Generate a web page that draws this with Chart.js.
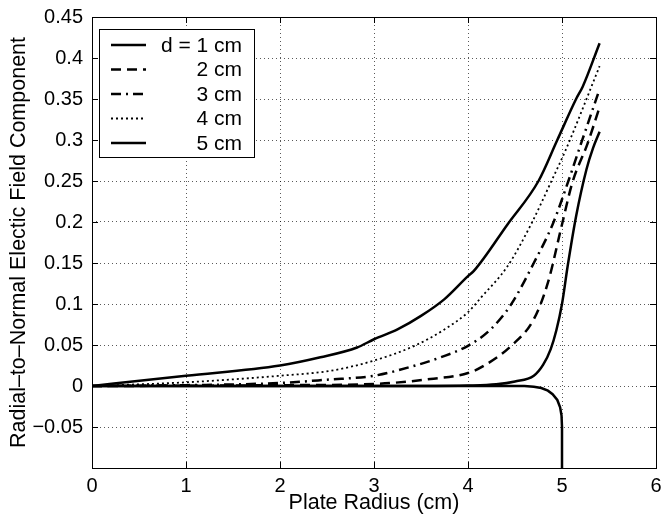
<!DOCTYPE html>
<html>
<head>
<meta charset="utf-8">
<script src="https://cdn.jsdelivr.net/npm/chart.js@4/dist/chart.umd.min.js"></script>
<style>
	html, body { margin: 0; padding: 0; background: #fff; }
	#wrap { width: 662px; height: 516px; }
</style>
</head>
<body>
<div id="wrap"><canvas id="fieldChart" width="662" height="516"></canvas></div>
<script>
// plate radius (cm) and radial-to-normal ratio, one pair of arrays per spacing
var r1 = [0, 1, 2, 3, 3.5, 4, 4.3, 4.5, 4.7, 4.8, 4.88, 4.94, 5.0, 5.06, 5.15, 5.26, 5.33, 5.4];
var e1 = [0, 0, 0, 0, 0, 0.0005, 0.002, 0.0055, 0.0125, 0.026, 0.045, 0.068, 0.1, 0.146, 0.207, 0.264, 0.29, 0.31];

var r2 = [0, 1, 2, 3, 3.6, 4, 4.17, 4.46, 4.7, 4.85, 5.0, 5.11, 5.27, 5.4];
var e2 = [0, 0.0003, 0.001, 0.0025, 0.0085, 0.0158, 0.0247, 0.049, 0.0815, 0.126, 0.197, 0.248, 0.295, 0.34];

var r3 = [0, 1, 2, 2.5, 3, 3.43, 3.71, 4, 4.24, 4.46, 4.7, 4.9, 5.08, 5.18, 5.4];
var e3 = [0, 0.001, 0.0037, 0.0077, 0.0125, 0.0247, 0.035, 0.049, 0.069, 0.0998, 0.15, 0.197, 0.254, 0.288, 0.362];

var r4 = [0, 1, 2, 2.54, 3, 3.43, 3.75, 4, 4.14, 4.42, 4.67, 4.88, 5.04, 5.4];
var e4 = [0, 0.0045, 0.0125, 0.0186, 0.031, 0.049, 0.069, 0.09, 0.108, 0.146, 0.197, 0.248, 0.288, 0.39];

var r5 = [0, 1, 2, 2.43, 2.82, 3, 3.25, 3.5, 3.75, 4, 4.06, 4.42, 4.75, 4.95, 5.15, 5.22, 5.4];
var e5 = [0, 0.0125, 0.025, 0.035, 0.047, 0.057, 0.069, 0.0855, 0.106, 0.134, 0.14, 0.197, 0.25, 0.3, 0.35, 0.365, 0.418];

// unlabelled solid curve that drops at the plate edge
var r0 = [0, 4.6, 4.7, 4.78, 4.85, 4.9, 4.95, 4.98, 4.995, 5.0, 5.0];
var e0 = [0, 0, -0.0008, -0.0025, -0.0057, -0.01, -0.017, -0.026, -0.036, -0.05, -0.1];

var seriesLabels = ['d = 1 cm', '2 cm', '3 cm', '4 cm', '5 cm'];
var xTicks = [0, 1, 2, 3, 4, 5, 6];
var yMin = -0.1, yMax = 0.45, yStep = 0.05;

(function(window, document, undefined) {
	document.addEventListener('DOMContentLoaded', function() {
		var fontFamily = '"Liberation Sans", Arial, Helvetica, sans-serif';

		function toPoints(xs, ys) {
			var pts = [];
			xs.forEach(function(x, i) {
				pts.push({x: x, y: ys[i]});
			});
			return pts;
		}

		function curve(label, xs, ys, dash, width) {
			return {
				label: label,
				data: toPoints(xs, ys),
				borderColor: '#000',
				borderWidth: width,
				borderDash: dash,
				pointRadius: 0,
				fill: false,
				showLine: true,
				cubicInterpolationMode: 'monotone'
			};
		}

		var datasets = [
			curve(seriesLabels[0], r1, e1, [], 2.5),
			curve(seriesLabels[1], r2, e2, [10, 6], 2.5),
			curve(seriesLabels[2], r3, e3, [10, 5, 2, 5], 2.5),
			curve(seriesLabels[3], r4, e4, [2, 3], 1.8),
			curve(seriesLabels[4], r5, e5, [], 2.5)
		];
		var edge = curve('', r0, e0, [], 2.5);
		edge.cubicInterpolationMode = 'default';
		edge.tension = 0;
		datasets.push(edge);

		function fmtY(v) {
			var r = Math.round(v * 100) / 100;
			if (Math.abs(r - yMin) < 1e-9) {
				return '';
			}
			var s = String(r);
			return s.replace('-', '\u2212');
		}

		// box, inward tick marks and the legend, drawn over the curves
		var frame = {
			id: 'frame',
			afterDraw: function(chart) {
				var ctx = chart.ctx;
				var a = chart.chartArea;
				var xs = chart.scales.x;
				var ys = chart.scales.y;
				var tl = 6;

				ctx.save();
				ctx.strokeStyle = '#000';
				ctx.lineWidth = 1;
				ctx.setLineDash([]);
				ctx.beginPath();
				xs.ticks.forEach(function(t) {
					var px = Math.round(xs.getPixelForValue(t.value)) + 0.5;
					ctx.moveTo(px, a.bottom);
					ctx.lineTo(px, a.bottom - tl);
					ctx.moveTo(px, a.top);
					ctx.lineTo(px, a.top + tl);
				});
				ys.ticks.forEach(function(t) {
					var py = Math.round(ys.getPixelForValue(t.value)) + 0.5;
					ctx.moveTo(a.left, py);
					ctx.lineTo(a.left + tl, py);
					ctx.moveTo(a.right, py);
					ctx.lineTo(a.right - tl, py);
				});
				ctx.stroke();
				ctx.strokeRect(Math.round(a.left) + 0.5, Math.round(a.top) + 0.5,
					Math.round(a.right - a.left), Math.round(a.bottom - a.top));

				// legend
				var lx = a.left + 7, ly = a.top + 12;
				var lw = 155, rowH = 24.5, lh = 128;
				ctx.fillStyle = '#fff';
				ctx.fillRect(lx, ly, lw, lh);
				ctx.strokeRect(Math.round(lx) + 0.5, Math.round(ly) + 0.5, lw, lh);
				ctx.font = '21px ' + fontFamily;
				ctx.textAlign = 'right';
				ctx.textBaseline = 'middle';
				chart.data.datasets.forEach(function(ds, i) {
					if (!ds.label) {
						return;
					}
					var cy = ly + 16 + i * rowH;
					ctx.beginPath();
					ctx.lineWidth = ds.borderWidth;
					ctx.setLineDash(ds.borderDash);
					ctx.moveTo(lx + 12, cy);
					ctx.lineTo(lx + 47, cy);
					ctx.stroke();
					ctx.setLineDash([]);
					ctx.fillStyle = '#000';
					ctx.fillText(ds.label, lx + 143, cy + 1);
				});
				ctx.restore();
			}
		};

		var ctx = document.querySelector('#fieldChart');
		var chart = new Chart(ctx, {
			type: 'scatter',
			data: { datasets: datasets },
			plugins: [frame],
			options: {
				responsive: false,
				animation: false,
				layout: { padding: { left: 0, right: 6, top: 17, bottom: 0 } },
				plugins: {
					legend: { display: false },
					tooltip: { enabled: false }
				},
				scales: {
					x: {
						type: 'linear',
						min: 0,
						max: 6,
						afterBuildTicks: function(scale) {
							scale.ticks = xTicks.map(function(v) { return {value: v}; });
						},
						afterFit: function(scale) {
							scale.height = 48;
							scale.paddingLeft = 0;
							scale.paddingRight = 0;
						},
						grid: { color: 'rgba(0,0,0,0.65)', lineWidth: 1, drawTicks: false },
						border: { display: false, dash: [1, 3] },
						ticks: {
							color: '#000',
							padding: 6,
							font: { family: fontFamily, size: 20 },
							maxRotation: 0
						},
						title: {
							display: true,
							text: 'Plate Radius (cm)',
							color: '#000',
							font: { family: fontFamily, size: 21.5 },
							padding: { top: 0, bottom: 0 }
						}
					},
					y: {
						type: 'linear',
						min: yMin,
						max: yMax,
						afterFit: function(scale) {
							scale.width = 92;
							scale.paddingTop = 0;
							scale.paddingBottom = 0;
						},
						grid: { color: 'rgba(0,0,0,0.65)', lineWidth: 1, drawTicks: false },
						border: { display: false, dash: [1, 3] },
						ticks: {
							stepSize: yStep,
							color: '#000',
							padding: 9,
							font: { family: fontFamily, size: 20 },
							callback: fmtY
						},
						title: {
							display: true,
							text: 'Radial\u2013to\u2013Normal Electic Field Component',
							color: '#000',
							font: { family: fontFamily, size: 21.5 },
							padding: { top: 6, bottom: 0 }
						}
					}
				}
			}
		});
	}, false);
})(window, document);
</script>
</body>
</html>
